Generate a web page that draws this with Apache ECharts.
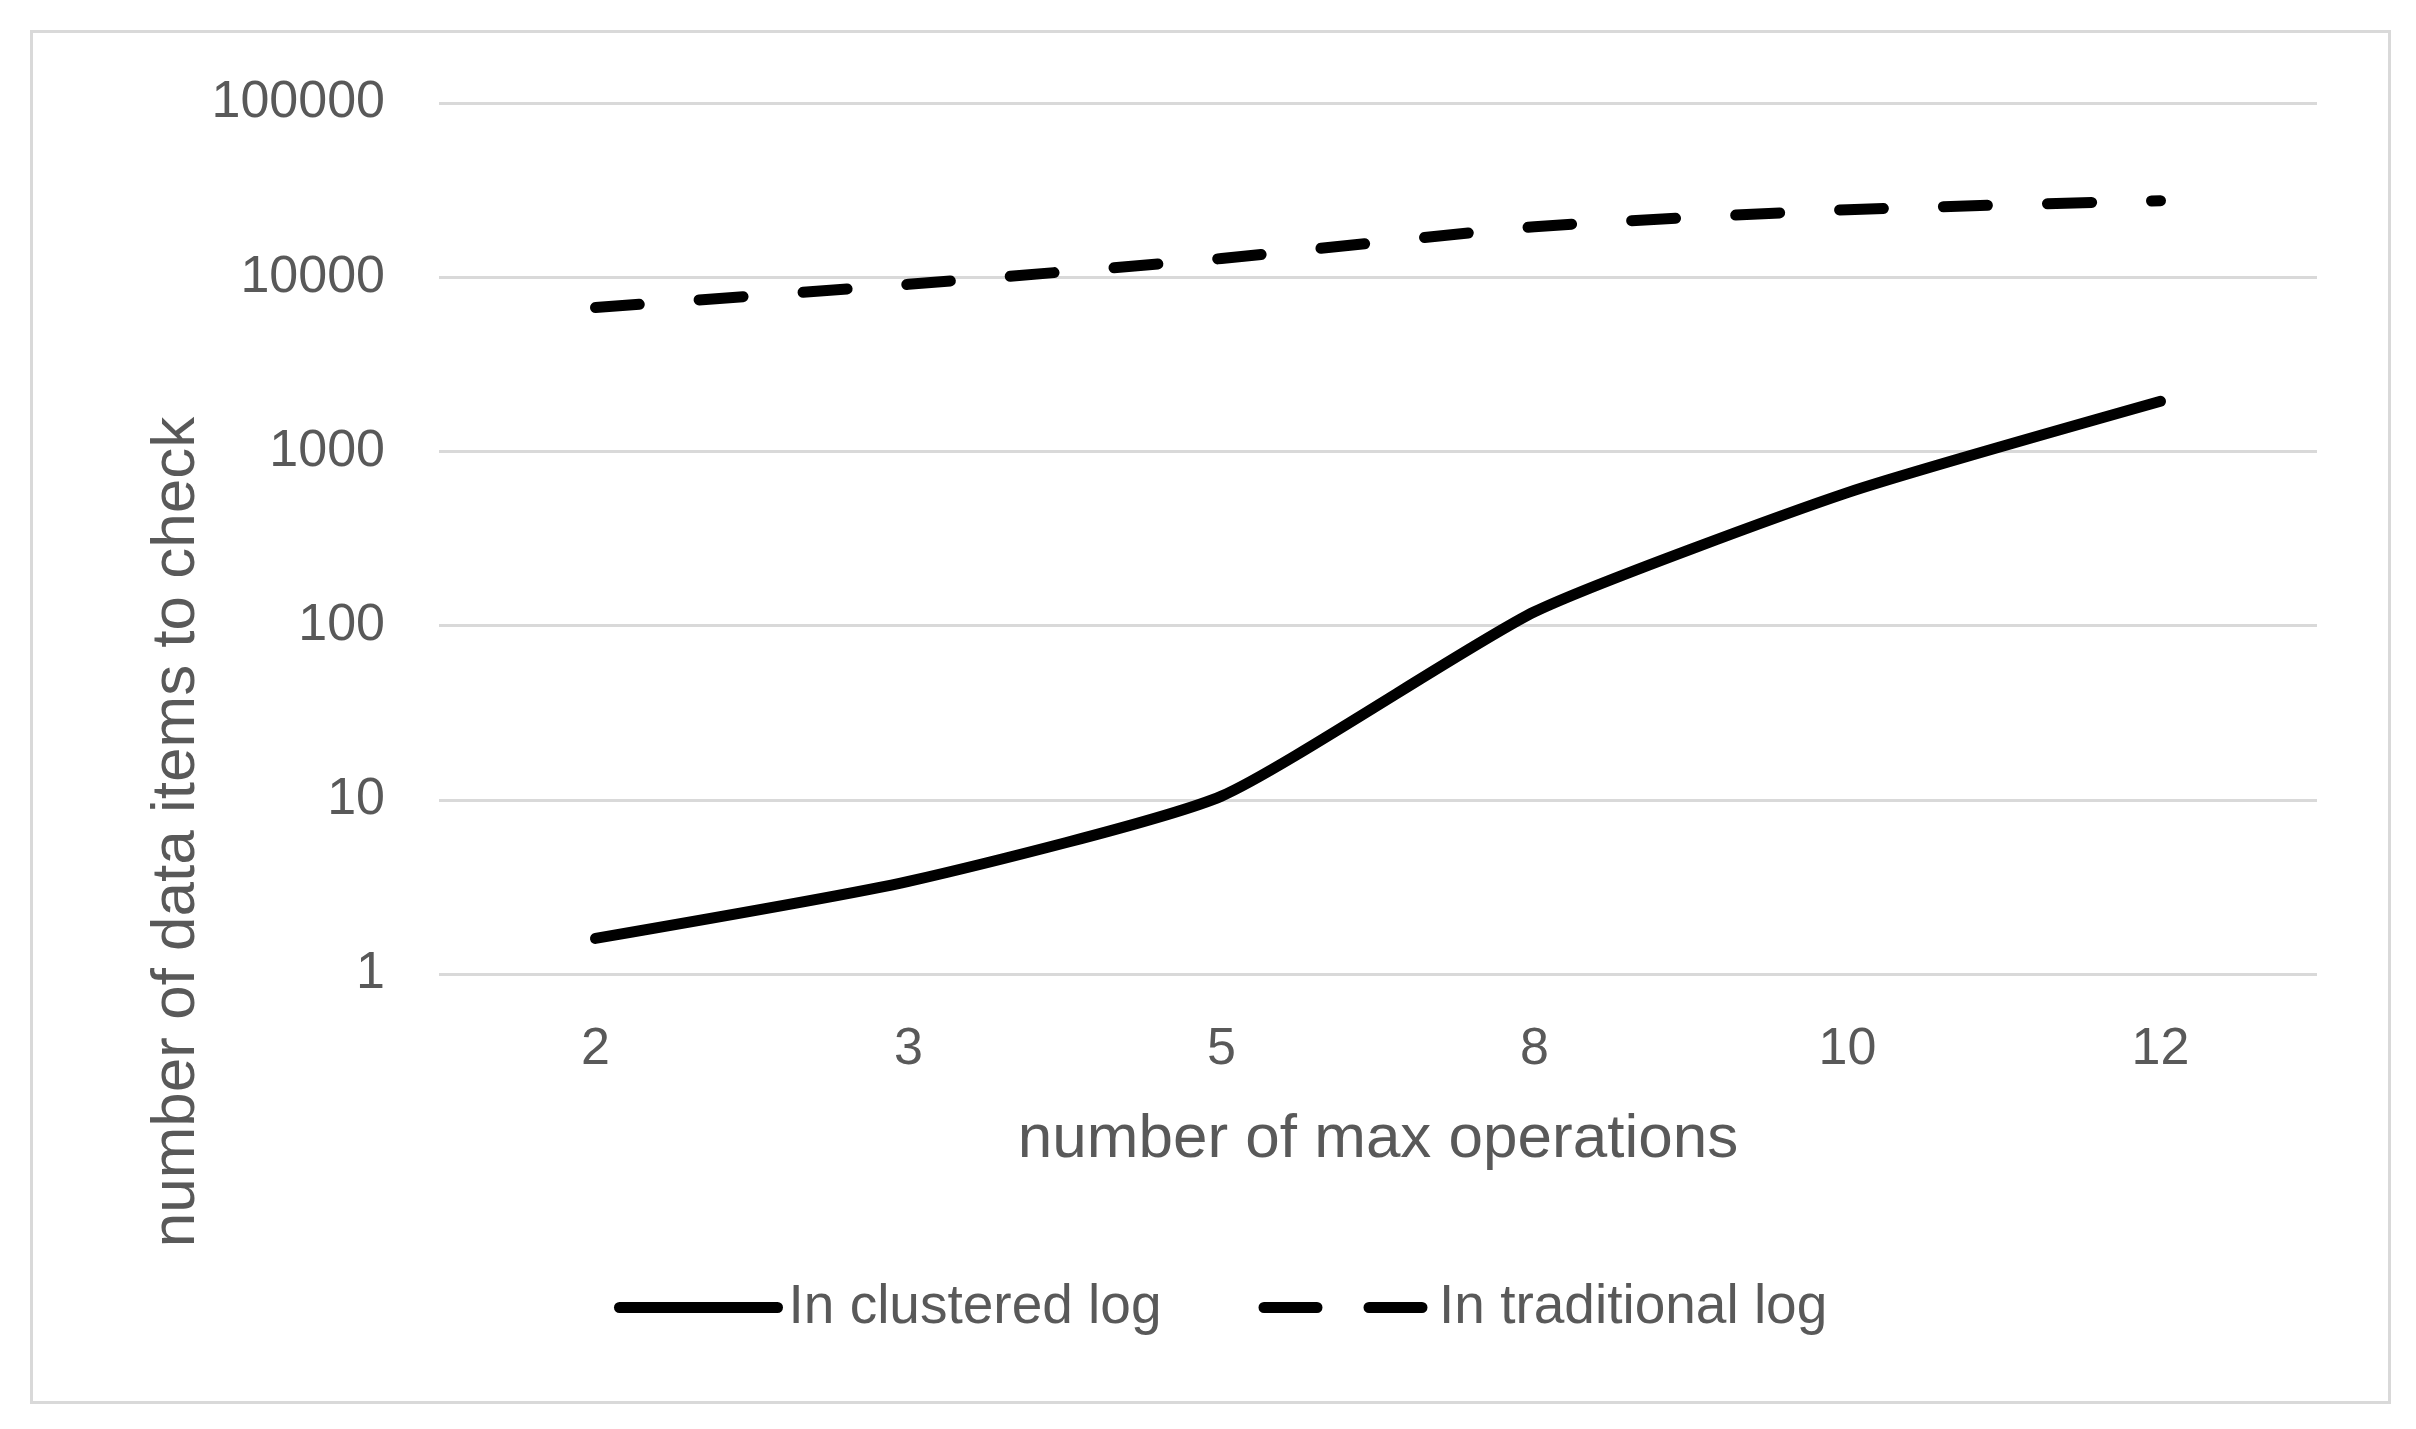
<!DOCTYPE html>
<html>
<head>
<meta charset="utf-8">
<script src="https://cdn.jsdelivr.net/npm/echarts@6/dist/echarts.min.js"></script>
<style>
html,body{margin:0;padding:0;background:#fff;}
#chart{width:2416px;height:1429px;}
</style>
</head>
<body>
<div id="chart"></div>
<script>
const categories = ['2', '3', '5', '8', '10', '12'];
const clusteredLog = [1.6, 3.4, 10.5, 120, 580, 1940];
const traditionalLog = [6700, 9100, 12800, 19500, 24400, 27500];
const seriesNames = ['In clustered log', 'In traditional log'];
const xTitle = 'number of max operations';
const yTitle = 'number of data items to check';

const FONT = '"Liberation Sans", Arial, sans-serif';
const GRAY = '#595959';

const chart = echarts.init(document.getElementById('chart'), null, {renderer: 'canvas'});
chart.setOption({
  backgroundColor: '#ffffff',
  animation: false,
  textStyle: {fontFamily: FONT},
  grid: {left: 439, right: 99, top: 103, bottom: 455, containLabel: false},
  graphic: [
    {type: 'rect', left: 29, top: 29, shape: {width: 2358, height: 1371},
     style: {fill: 'none', stroke: '#d9d9d9', lineWidth: 3}, silent: true},
    {type: 'text', x: 177, y: 832, rotation: Math.PI / 2,
     style: {text: yTitle, fill: GRAY, font: '62px ' + FONT, align: 'center', verticalAlign: 'middle'}},
    {type: 'text', x: 1378, y: 1140,
     style: {text: xTitle, fill: GRAY, font: '62px ' + FONT, align: 'center', verticalAlign: 'middle'}}
  ],
  legend: {
    left: 609, top: 1304 - 13 - 16,
    itemWidth: 158, itemHeight: 32,
    itemGap: 97,
    lineStyle: {width: 11, cap: 'round'},
    textStyle: {color: GRAY, fontSize: 55, fontFamily: FONT, padding: [0, 0, 0, 6]},
    data: [
      {name: seriesNames[0], lineStyle: {type: 'solid', width: 11}},
      {name: seriesNames[1], lineStyle: {type: [53, 52], width: 11},
       textStyle: {color: GRAY, fontSize: 55, fontFamily: FONT, padding: [0, 0, 0, 12]}}
    ]
  },
  xAxis: {
    type: 'category', data: categories, boundaryGap: true,
    axisLine: {show: false}, axisTick: {show: false},
    axisLabel: {color: GRAY, fontSize: 52, fontFamily: FONT, margin: 50},
    splitLine: {show: false}
  },
  yAxis: {
    type: 'log', logBase: 10, min: 1, max: 100000,
    axisLine: {show: false}, axisTick: {show: false},
    axisLabel: {color: GRAY, fontSize: 52, fontFamily: FONT, margin: 54,
      formatter: function (v) { return String(Math.round(v)); }},
    splitLine: {show: true, lineStyle: {color: '#d9d9d9', width: 3}}
  },
  series: [
    {name: seriesNames[0], type: 'line', data: clusteredLog, smooth: 0.18,
     symbol: 'none', showSymbol: false,
     lineStyle: {color: '#000', width: 11, cap: 'round', join: 'round'},
     itemStyle: {color: '#000', opacity: 0}},
    {name: seriesNames[1], type: 'line', data: traditionalLog, smooth: 0.18,
     symbol: 'none', showSymbol: false,
     lineStyle: {color: '#000', width: 11, type: [44, 60], cap: 'round', join: 'round'},
     itemStyle: {color: '#000', opacity: 0}}
  ]
});
</script>
</body>
</html>
